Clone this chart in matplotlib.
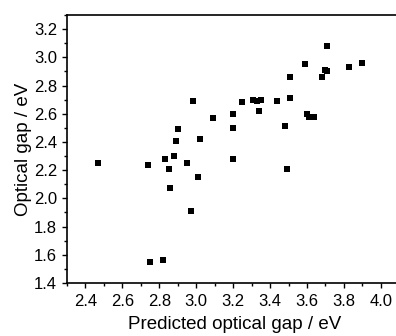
import matplotlib
matplotlib.use("Agg")
import matplotlib.pyplot as plt
from matplotlib.ticker import MultipleLocator

plt.rcParams['font.family'] = ['Liberation Sans', 'DejaVu Sans']

predicted = [2.47, 2.74, 2.75, 2.82, 2.83, 2.85, 2.86, 2.88, 2.89, 2.90, 2.95, 2.97,
             2.98, 3.01, 3.02, 3.09, 3.20, 3.20, 3.20, 3.25, 3.31, 3.33, 3.34, 3.35,
             3.44, 3.48, 3.49, 3.51, 3.51, 3.59, 3.60, 3.61, 3.64, 3.68, 3.70, 3.71,
             3.71, 3.83, 3.90]
optical = [2.25, 2.24, 1.55, 1.56, 2.28, 2.21, 2.07, 2.30, 2.41, 2.49, 2.25, 1.91,
           2.69, 2.15, 2.42, 2.57, 2.60, 2.50, 2.28, 2.68, 2.70, 2.69, 2.62, 2.70,
           2.69, 2.51, 2.21, 2.71, 2.86, 2.95, 2.60, 2.58, 2.58, 2.86, 2.91, 2.90,
           3.08, 2.93, 2.96]
xticks = [2.4, 2.6, 2.8, 3.0, 3.2, 3.4, 3.6, 3.8, 4.0]
yticks = [1.4, 1.6, 1.8, 2.0, 2.2, 2.4, 2.6, 2.8, 3.0, 3.2]

fig = plt.figure(figsize=(3.96, 3.36), dpi=100)
ax = fig.add_axes([67/396, 1-283/336, (396-67)/396, (283-15)/336])
ax.scatter(predicted, optical, marker='s', s=22, color='black', linewidths=0)
ax.set_xlim(2.3, 2.3 + (396-67)/184.6)
ax.set_ylim(1.4, 3.3)
ax.xaxis.set_minor_locator(MultipleLocator(0.1))
ax.yaxis.set_minor_locator(MultipleLocator(0.1))
ax.set_xticks(xticks)
ax.set_yticks(yticks)
ax.set_xticklabels([f'{v:.1f}' for v in xticks])
ax.set_yticklabels([f'{v:.1f}' for v in yticks])
ax.tick_params(which='major', direction='out', length=3.6, width=1, labelsize=12)
ax.tick_params(axis='y', which='major', pad=3.5)
ax.tick_params(axis='x', which='major', pad=4)
ax.tick_params(which='minor', direction='out', length=2.2, width=1)
ax.spines['right'].set_visible(False)
for s in ['top', 'bottom', 'left']:
    ax.spines[s].set_linewidth(1.2)
ax.set_xlabel('Predicted optical gap / eV', fontsize=13.5)
ax.set_ylabel('Optical gap / eV', fontsize=13.5)
ax.xaxis.set_label_coords(0.509, -0.122)
ax.yaxis.set_label_coords(-0.106, 0.5)
fig.savefig('out.png', dpi=100)
